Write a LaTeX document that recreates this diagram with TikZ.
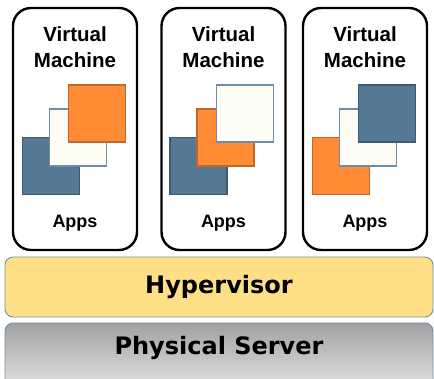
\documentclass[tikz,border=0pt]{standalone}
\usepackage{fontspec}
\setmainfont{Liberation Sans}
\newfontfamily\layerfont{DejaVu Sans}
\usepackage{tikz}
\usetikzlibrary{positioning,shapes}

\definecolor{appblue}{HTML}{557894}
\definecolor{appblueline}{HTML}{3E5A72}
\definecolor{apporange}{HTML}{FF8B35}
\definecolor{apporangeline}{HTML}{C1672E}
\definecolor{appcream}{HTML}{FDFDF6}
\definecolor{appcreamline}{HTML}{6F8DA8}
\definecolor{hypyellow}{HTML}{FFDF86}
\definecolor{layerline}{HTML}{7390AC}

\tikzstyle{vm}=[rectangle, draw=black, line width=2.4pt, fill=white,
		minimum width=124pt, minimum height=242pt, rounded corners=18pt]
\tikzstyle{app}=[rectangle, line width=1.8pt, minimum size=57pt, inner sep=0pt]
\tikzstyle{blueapp}=[app, fill=appblue, draw=appblueline]
\tikzstyle{orangeapp}=[app, fill=apporange, draw=apporangeline]
\tikzstyle{creamapp}=[app, fill=appcream, draw=appcreamline]
\tikzstyle{title}=[font=\fontsize{20.5}{26}\selectfont\bfseries, align=center, inner sep=0pt]
\tikzstyle{apps}=[font=\fontsize{18}{20}\selectfont\bfseries, inner sep=0pt]
\tikzstyle{layer}=[rectangle, draw=layerline, line width=0.9pt,
		minimum width=428pt, rounded corners=8pt, inner sep=0pt]
\tikzstyle{layertext}=[font=\layerfont\fontsize{24}{26}\selectfont\bfseries, inner sep=0pt]

\begin{document}
\begin{tikzpicture}[x=1pt,y=-1pt]
    \useasboundingbox (0,0) rectangle (434,379);
    \clip (0,0) rectangle (434,379);

    % virtual machines
    \node (VMa) [vm] at (75,129) {};
    \node (VMb) [vm] at (223.5,129) {};
    \node (VMc) [vm] at (365,129) {};

    \node (TitleA) [title, anchor=north] at (75,26) {Virtual\\Machine};
    \node (TitleB) [title, anchor=north] at (223.5,26) {Virtual\\Machine};
    \node (TitleC) [title, anchor=north] at (365,26) {Virtual\\Machine};

    % stacked apps
    \node (BlueA) [blueapp] at (51,166) {};
    \node (CreamA) [creamapp] at (78,137.5) {};
    \node (OrangeA) [orangeapp] at (97,113.5) {};

    \node (BlueB) [blueapp] at (198.5,166) {};
    \node (OrangeB) [orangeapp] at (225.5,137.5) {};
    \node (CreamB) [creamapp] at (245,113.5) {};

    \node (OrangeC) [orangeapp] at (341,166) {};
    \node (CreamC) [creamapp] at (368,137.5) {};
    \node (BlueC) [blueapp] at (387,113.5) {};

    \node (AppsA) [apps] at (75,223) {Apps};
    \node (AppsB) [apps] at (223.5,223) {Apps};
    \node (AppsC) [apps] at (365,223) {Apps};

    % layers
    \node (Hyp) [layer, fill=hypyellow, minimum height=60pt] at (219,287) {};
    \node (HypText) [layertext] at (Hyp.center) {Hypervisor};

    \node (Srv) [layer, top color=black!37, bottom color=black!9,
    		     minimum height=70pt] at (219,358) {};
    \node (SrvText) [layertext] at (219,348) {Physical Server};
\end{tikzpicture}
\end{document}
